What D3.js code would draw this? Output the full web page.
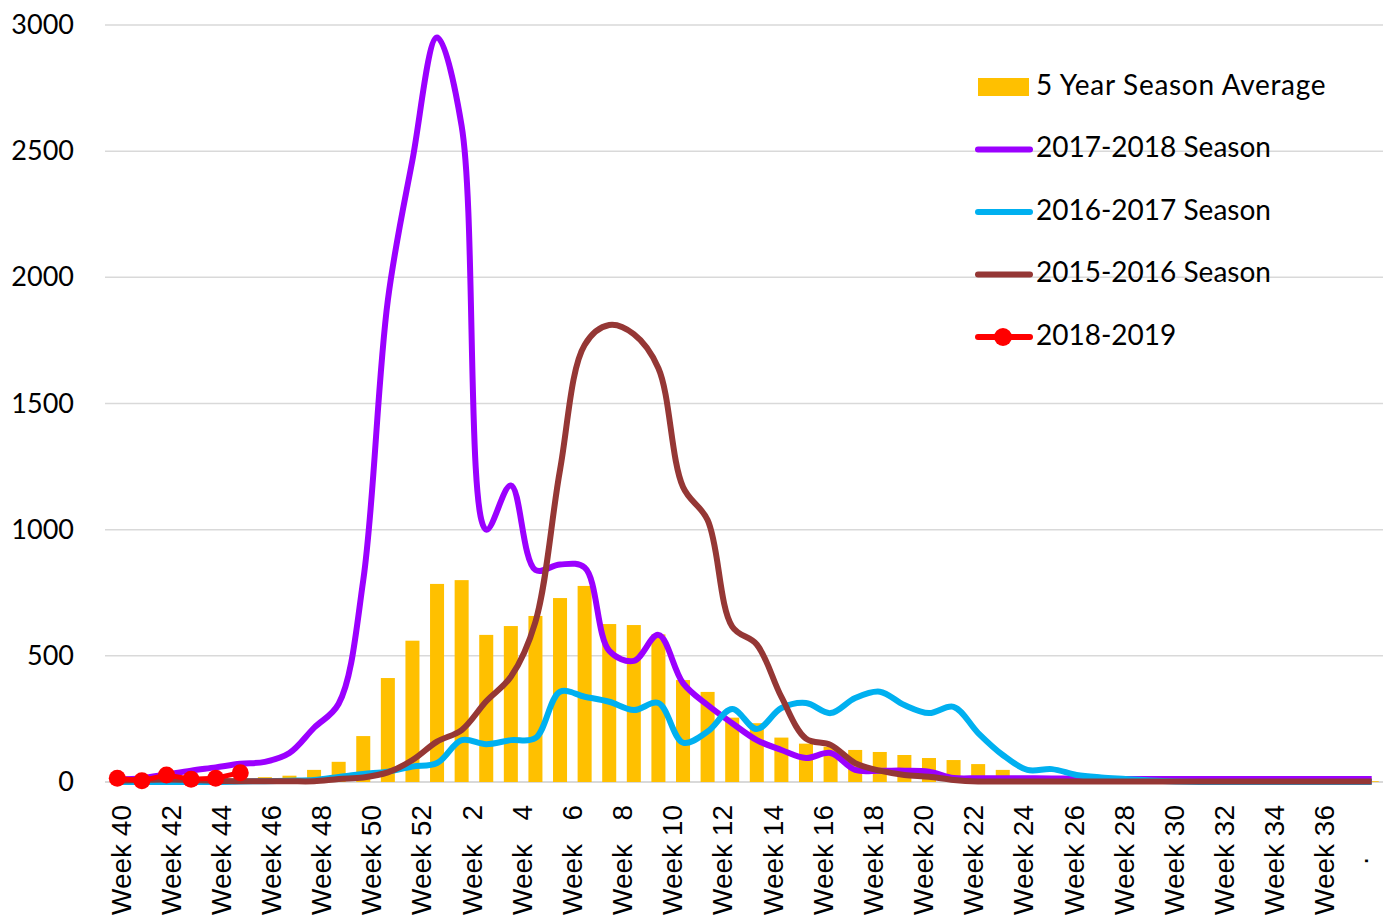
<!DOCTYPE html>
<html>
<head>
<meta charset="utf-8">
<script src="https://cdn.jsdelivr.net/npm/d3@7"></script>
<style>
	body { margin: 0; background: #fff; }
	svg { display: block; }
</style>
</head>
<body>
<div id="chart"></div>
<script>

// categories used by the bars and lines (52 weeks, Week 40 to Week 39)
const weeks = [40, 41, 42, 43, 44, 45, 46, 47, 48, 49, 50, 51, 52,
	1, 2, 3, 4, 5, 6, 7, 8, 9, 10, 11, 12, 13, 14, 15, 16, 17, 18, 19, 20,
	21, 22, 23, 24, 25, 26, 27, 28, 29, 30, 31, 32, 33, 34, 35, 36, 37, 38, 39];

// categories of the label axis (51 slots, last one shows only a dot)
const axisWeeks = [40, 41, 42, 43, 44, 45, 46, 47, 48, 49, 50, 51, 52,
	1, 2, 3, 4, 5, 6, 7, 8, 9, 10, 11, 12, 13, 14, 15, 16, 17, 18, 19, 20,
	21, 22, 23, 24, 25, 26, 27, 28, 29, 30, 31, 32, 33, 34, 35, 36, 37, '.'];

const avg5 = [5, 6, 8, 10, 12, 15, 19, 25, 48, 80, 182, 412, 560,
	785, 800, 583, 618, 658, 729, 777, 626, 622, 585, 404, 357, 255, 233,
	176, 152, 140, 127, 119, 107, 95, 87, 71, 48, 21, 20, 10, 8, 7, 6, 5,
	5, 4, 4, 4, 3, 3, 3, 3];

const season1718 = [10, 15, 30, 45, 58, 72, 80, 115, 215, 310, 800, 1910, 2465,
	2950, 2600, 1000, 1175, 840, 862, 850, 520, 480, 583, 392, 305, 233, 166,
	127, 95, 115, 48, 45, 45, 41, 16, 15, 15, 15, 14, 13, 12, 12, 12, 12,
	12, 12, 12, 12, 12, 12, 12, 12];

const season1617 = [0, 0, 0, 0, 0, 2, 3, 5, 8, 20, 32, 41, 61,
	75, 166, 150, 166, 174, 358, 338, 318, 285, 313, 156, 200, 289, 210,
	293, 313, 273, 333, 358, 305, 273, 298, 194, 107, 48, 51, 28, 18, 12, 6, 2,
	0, 0, 0, 0, 0, 0, 0, 0];

const season1516 = [5, 8, 10, 8, 5, 3, 3, 3, 3, 12, 18, 38, 87,
	160, 206, 320, 417, 635, 1237, 1732, 1811, 1775, 1640, 1169, 1038, 616, 545,
	337, 172, 147, 75, 45, 28, 21, 8, 2, 2, 2, 2, 2, 2, 2, 2, 2,
	2, 2, 2, 2, 2, 2, 2, 2];

const season1819 = [15, 5, 28, 11, 15, 37];

const yTicks = [0, 500, 1000, 1500, 2000, 2500, 3000];

const seriesNames = ['5 Year Season Average', '2017-2018 Season', '2016-2017 Season', '2015-2016 Season', '2018-2019'];

const colors = {
	avg: '#FFC000',
	s1718: '#9B00FF',
	s1617: '#00B0F0',
	s1516: '#953735',
	s1819: '#FF0000'
};

const width = 1383;
const height = 915;
const plot = { left: 105, right: 1384, top: 25, bottom: 782 };

const svg = d3.select('#chart')
	.append('svg')
		.attr('width', width)
		.attr('height', height);

const x = d3.scaleBand()
	.domain(weeks)
	.range([plot.left, plot.right])
	.paddingInner(0.43)
	.paddingOuter(0.215);

const xLabel = d3.scaleBand()
	.domain(axisWeeks)
	.range([plot.left, plot.right]);

const y = d3.scaleLinear()
	.domain([0, 3000])
	.range([plot.bottom, plot.top]);

// gridlines
svg.append('g')
	.selectAll('line')
	.data(yTicks).enter()
	.append('line')
		.attr('x1', plot.left)
		.attr('x2', plot.right)
		.attr('y1', d => y(d))
		.attr('y2', d => y(d))
		.attr('stroke', '#d9d9d9')
		.attr('stroke-width', d => d === 0 ? 2 : 1.5);

// y axis
svg.append('g')
	.attr('transform', 'translate(77, 0)')
	.call(d3.axisLeft(y).tickValues(yTicks).tickSize(0).tickPadding(3).tickFormat(d3.format('d')))
	.call(g => g.select('.domain').remove())
	.selectAll('text')
		.attr('font-family', 'Lato, "Open Sans", sans-serif')
		.attr('font-size', 27)
		.attr('fill', '#000');

// x axis labels
function weekLabel(d) {
	if (d === '.') return d;
	return d < 10 ? 'Week   ' + d : 'Week ' + d;
}

svg.append('g')
	.attr('transform', `translate(0, ${plot.bottom})`)
	.call(d3.axisBottom(xLabel)
		.tickValues(axisWeeks.filter((d, i) => i % 2 === 0))
		.tickSize(0)
		.tickFormat(weekLabel))
	.call(g => g.select('.domain').remove())
	.selectAll('text')
		.attr('transform', 'rotate(-90)')
		.attr('x', d => d === '.' ? -75 : -23)
		.attr('y', d => d === '.' ? -3 : 13)
		.attr('dy', 0)
		.attr('text-anchor', 'end')
		.attr('font-family', '"Liberation Sans", Arial, sans-serif')
		.attr('font-size', 28)
		.attr('fill', '#000')
		.style('white-space', 'pre');

// bars
svg.append('g')
	.selectAll('rect')
	.data(avg5).enter()
	.append('rect')
		.attr('x', (d, i) => x(weeks[i]))
		.attr('y', d => y(d))
		.attr('width', x.bandwidth())
		.attr('height', d => y(0) - y(d))
		.attr('fill', colors.avg);

// lines
const line = d3.line()
	.x((d, i) => x(weeks[i]) + x.bandwidth() / 2)
	.y(d => y(d))
	.curve(d3.curveCatmullRom);

const lineSeries = [
	{ values: season1718, color: colors.s1718 },
	{ values: season1617, color: colors.s1617 },
	{ values: season1516, color: colors.s1516 }
];

svg.append('g')
	.selectAll('path')
	.data(lineSeries).enter()
	.append('path')
		.attr('d', d => line(d.values))
		.attr('fill', 'none')
		.attr('stroke', d => d.color)
		.attr('stroke-width', 6)
		.attr('stroke-linejoin', 'round');

// 2018-2019 season, straight line with markers
svg.append('path')
	.attr('d', d3.line()
		.x((d, i) => x(weeks[i]) + x.bandwidth() / 2)
		.y(d => y(d))(season1819))
	.attr('fill', 'none')
	.attr('stroke', colors.s1819)
	.attr('stroke-width', 5);

svg.append('g')
	.selectAll('circle')
	.data(season1819).enter()
	.append('circle')
		.attr('cx', (d, i) => x(weeks[i]) + x.bandwidth() / 2)
		.attr('cy', d => y(d))
		.attr('r', 8.5)
		.attr('fill', colors.s1819);

// legend
const legend = svg.append('g')
	.attr('transform', 'translate(977, 85)');

const legendColors = [colors.avg, colors.s1718, colors.s1617, colors.s1516, colors.s1819];

const item = legend.selectAll('g')
	.data(seriesNames).enter()
	.append('g')
		.attr('transform', (d, i) => `translate(0, ${i * 62.5})`);

item.filter((d, i) => i === 0)
	.append('rect')
		.attr('x', 1)
		.attr('y', -7)
		.attr('width', 51)
		.attr('height', 18)
		.attr('fill', colors.avg);

item.filter((d, i) => i > 0)
	.append('line')
		.attr('x1', 1)
		.attr('x2', 53)
		.attr('y1', 2)
		.attr('y2', 2)
		.attr('stroke', (d, i) => legendColors[i + 1])
		.attr('stroke-width', 6)
		.attr('stroke-linecap', 'round');

item.filter((d, i) => i === 4)
	.append('circle')
		.attr('cx', 26)
		.attr('cy', 2)
		.attr('r', 9)
		.attr('fill', colors.s1819);

item.append('text')
	.attr('x', 59)
	.attr('y', 0)
	.attr('dy', '0.35em')
	.attr('font-family', 'Lato, "Open Sans", sans-serif')
	.attr('font-size', 28)
	.attr('fill', '#000')
	.attr('letter-spacing', (d, i) => i === 0 ? 0.7 : 0)
	.text(d => d);

</script>
</body>
</html>
